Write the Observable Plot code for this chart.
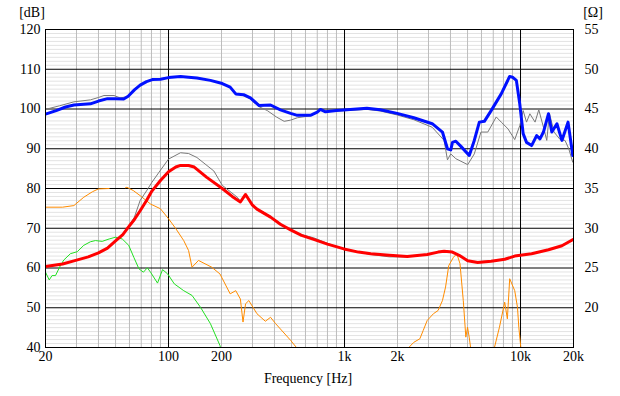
<!DOCTYPE html>
<html><head><meta charset="utf-8">
<script src="https://cdn.jsdelivr.net/npm/d3@7"></script>
<script src="https://cdn.jsdelivr.net/npm/@observablehq/plot@0.6"></script>
<style>html,body{margin:0;padding:0;background:#fff}svg{display:block}svg text{font-family:"Liberation Serif","DejaVu Serif",serif}</style>
</head><body><div id="chart"></div>
<script>
// ---- tick labels ----
const xTicks = [20, 50, 100, 200, 500, 1000, 2000, 5000, 10000, 20000];
const xTickLabels = ["20", "50", "100", "200", "500", "1k", "2k", "5k", "10k", "20k"];
const dbTicks = [40, 50, 60, 70, 80, 90, 100, 110, 120];
const ohmTicks = [20, 25, 30, 35, 40, 45, 50, 55];
const minorFreq = [30,40,50,60,70,80,90,200,300,400,500,600,700,800,900,2000,3000,4000,5000,6000,7000,8000,9000];
const decadeFreq = [100, 1000, 10000];

// ---- SPL (blue, thick) [Hz, dB] ----
const splBlue = [[20,98.7],[23,99.6],[26,100.5],[29,101.0],[33,101.2],[36,101.3],[40,102.0],[45,102.6],[50,102.6],[55.6,102.5],[59,103.2],[64,104.8],[69,106.0],[75,106.9],[81,107.4],[90,107.5],[100,107.9],[117,108.2],[130,108.0],[145,107.8],[173,107.2],[202,106.4],[224,105.5],[241,103.8],[267,103.6],[292,102.8],[326,100.9],[380,101.0],[432,99.8],[494,98.9],[539,98.4],[640,98.4],[700,99.2],[730,99.9],[780,99.3],[900,99.6],[1030,99.8],[1340,100.2],[1595,99.8],[1990,98.9],[2475,97.8],[3150,96.3],[3600,94.2],[3845,90.0],[4015,89.7],[4105,91.6],[4290,91.9],[4585,90.6],[5113,88.3],[5462,92.1],[5835,96.7],[6230,96.9],[6810,99.6],[7770,103.8],[8675,108.2],[9000,108.0],[9470,107.2],[9900,101.3],[10350,93.8],[10820,91.6],[11560,90.8],[12350,93.3],[12900,92.5],[13500,94.2],[14420,98.8],[15060,94.2],[16100,96.3],[17190,92.1],[18620,96.7],[19450,90.8],[19800,88.3],[20000,90.4]];

// ---- SPL (gray, thin) [Hz, dB] ----
const splGray = [[20,99.9],[24,100.8],[29,101.8],[36,102.3],[40,102.9],[43,103.4],[49,103.4],[53,102.8],[57,103.0],[59,103.3],[64,104.8],[69,106.0],[75,106.9],[81,107.4],[90,107.6],[100,107.9],[117,108.2],[145,107.8],[173,107.2],[202,106.4],[224,105.3],[241,104.0],[267,103.3],[292,102.5],[326,100.6],[364,99.6],[410,98.0],[454,96.9],[494,97.2],[540,97.8],[640,98.3],[730,99.6],[800,99.4],[1030,99.6],[1340,99.9],[1595,99.5],[1990,98.5],[2475,97.3],[3150,95.4],[3680,92.1],[3845,87.2],[4015,88.7],[4290,87.5],[5010,86.0],[5462,88.7],[5960,94.2],[6520,94.2],[7280,98.0],[7770,96.7],[8490,95.0],[9270,92.3],[9900,95.8],[10350,99.6],[10820,96.7],[11300,98.8],[12100,96.7],[12700,99.8],[13500,95.4],[14100,92.1],[14600,98.9],[15500,94.2],[16800,92.3],[17900,92.1],[18800,90.0],[19800,86.6],[20000,87.5]];

// ---- Impedance (red, thick) [Hz, Ohm] ----
const impRed = [[20,25.2],[25,25.5],[29,25.9],[35,26.4],[40,26.9],[45,27.5],[50,28.4],[55,29.2],[59,30.1],[64,31.1],[69,32.2],[75,33.5],[80,34.6],[90,36.0],[100,37.1],[110,37.7],[117,37.9],[130,37.9],[140,37.7],[165,36.4],[202,35.0],[230,34.0],[256,33.3],[274,34.25],[300,32.9],[318,32.4],[380,31.4],[432,30.5],[494,29.8],[570,29.1],[668,28.6],[800,28.0],[992,27.4],[1200,27.0],[1410,26.8],[1800,26.6],[2270,26.45],[2950,26.7],[3400,27.0],[3680,27.1],[4100,27.0],[4480,26.6],[5010,25.9],[5710,25.7],[6810,25.85],[8130,26.1],[9270,26.5],[11560,26.8],[14420,27.3],[17190,27.8],[20000,28.6]];

// ---- Impedance (gray, thin) [Hz, Ohm] ----
const impGray = [[20,25.2],[25,25.5],[29,25.9],[35,26.4],[40,26.9],[45,27.5],[50,28.4],[55,29.2],[59,30.1],[64,31.4],[69,33.5],[75,34.7],[80.6,35.8],[90,37.3],[100,38.7],[117,39.5],[130,39.4],[145,38.9],[181,37.2],[202,35.4],[246,33.9],[256,33.4],[274,34.1],[300,32.9],[318,32.5],[380,31.5],[432,30.6],[494,29.8],[570,29.2],[668,28.8],[800,28.1],[992,27.4],[1200,27.0],[1410,26.7],[1800,26.4],[2270,26.4],[2950,26.7],[3400,27.0],[3680,27.1],[4100,27.0],[4480,26.6],[5010,25.9],[5710,25.8],[6810,25.9],[8130,26.1],[9270,26.5],[11560,26.8],[14420,27.3],[17190,27.8],[20000,28.6]];

// ---- Distortion (orange) [Hz, dB], null = gap ----
const distOrange = [[20,75.3],[25,75.3],[29,75.7],[33,77.8],[37,79.2],[40,79.9],[46,80.0],[50,null],[57,80.2],[58,80.3],[63,79.5],[69,78.2],[79,76.1],[90,74.9],[100,72.4],[110,69.9],[122,66.9],[130,64.4],[136,60.2],[148,61.9],[176,60.2],[196,58.5],[224,53.5],[241,54.3],[256,52.2],[265,46.4],[274,51.0],[286,51.8],[318,48.5],[355,46.6],[380,47.6],[406,46.0],[494,41.8],[533,40.0],[560,36],[1000,null],[2150,36],[2330,40.1],[2475,41.3],[2680,42.2],[2800,44.3],[2950,46.8],[3200,48.5],[3400,49.3],[3600,51.8],[3750,55.2],[3910,60.6],[4160,62.7],[4345,63.6],[4530,61.1],[4730,51.8],[4890,42.6],[5000,45.1],[5110,42.6],[5200,40.1],[5300,36],[6000,null],[6900,36],[7110,40],[7590,45.1],[8130,51.4],[8420,47.2],[8680,57.3],[9270,54.3],[9610,50.1],[9780,45.1],[10040,40],[10200,36]];

// ---- Distortion (green) [Hz, dB] ----
const distGreen = [[20,58.95],[21,57.0],[21.8,58.1],[22.8,58.1],[24.3,60.6],[25.4,62.0],[27.7,63.6],[30.3,64.1],[33,65.7],[36,66.6],[38.4,66.9],[42,66.7],[46,67.3],[50,67.75],[54.6,67.3],[59.4,65.7],[63.5,62.7],[67.9,59.8],[72,58.95],[75.8,60.05],[79,58.95],[86.6,56.2],[92.5,59.6],[98.9,58.5],[107.9,56.0],[122,54.3],[136,53.1],[152,50.1],[173,46.0],[196,40.5],[205,37]];

const minorDb = d3.range(41, 120).filter(v => v % 10 !== 0);
const majorDb = [50, 60, 70, 80, 90, 100, 110];
const ohmToDb = o => 2 * o + 10;
const xLabel = new Map(xTicks.map((t, i) => [t, xTickLabels[i]]));
const FONT = "'Liberation Serif', 'DejaVu Serif', serif";

const chart = Plot.plot({
  width: 620, height: 396,
  marginLeft: 45, marginRight: 47, marginTop: 29, marginBottom: 49,
  style: {fontFamily: FONT, fontSize: "14px", background: "#fff", color: "#000"},
  x: {type: "log", domain: [20, 20000]},
  y: {domain: [40, 120]},
  marks: [
    Plot.ruleY(minorDb, {stroke: "#e3e3e3", strokeWidth: 1}),
    Plot.ruleX(minorFreq, {stroke: "#bdbdbd", strokeWidth: 1}),
    Plot.ruleY(majorDb, {stroke: "#000", strokeWidth: 1}),
    Plot.ruleX(decadeFreq, {stroke: "#000", strokeWidth: 1}),
    Plot.line(distOrange, {x: d => d[0], y: d => d[1], stroke: "#ff8c00", strokeWidth: 1, clip: true}),
    Plot.line(distGreen, {x: d => d[0], y: d => d[1], stroke: "#22e022", strokeWidth: 1, clip: true}),
    Plot.line(splGray, {x: d => d[0], y: d => d[1], stroke: "#7a7a7a", strokeWidth: 1, clip: true}),
    Plot.line(impGray, {x: d => d[0], y: d => ohmToDb(d[1]), stroke: "#7a7a7a", strokeWidth: 1, clip: true}),
    Plot.line(splBlue, {x: d => d[0], y: d => d[1], stroke: "#0010ff", strokeWidth: 3, clip: true}),
    Plot.line(impRed, {x: d => d[0], y: d => ohmToDb(d[1]), stroke: "#ff0000", strokeWidth: 3, clip: true}),
    Plot.frame({stroke: "#000"}),
    Plot.axisX(xTicks, {tickSize: 0, tickPadding: 4, tickFormat: d => xLabel.get(d), label: null, fontSize: 14, fontFamily: FONT}),
    Plot.axisY(dbTicks, {anchor: "left", tickSize: 0, tickPadding: 5, label: null, fontSize: 14, fontFamily: FONT}),
    Plot.axisY(ohmTicks.map(ohmToDb), {anchor: "right", tickSize: 0, tickPadding: 11, tickFormat: d => String((d - 10) / 2), label: null, fontSize: 14, fontFamily: FONT})
  ]
});

const svg = d3.select(chart);
const addText = (x, y, s) => svg.append("text").attr("x", x).attr("y", y).attr("text-anchor", "middle")
  .attr("dominant-baseline", "central").attr("font-family", FONT).attr("font-size", 14).attr("fill", "#000").text(s);
addText(32, 12, "[dB]");
addText(593, 12, "[Ω]");
addText(308, 378, "Frequency [Hz]");

document.getElementById("chart").appendChild(chart);
</script>
</body></html>
